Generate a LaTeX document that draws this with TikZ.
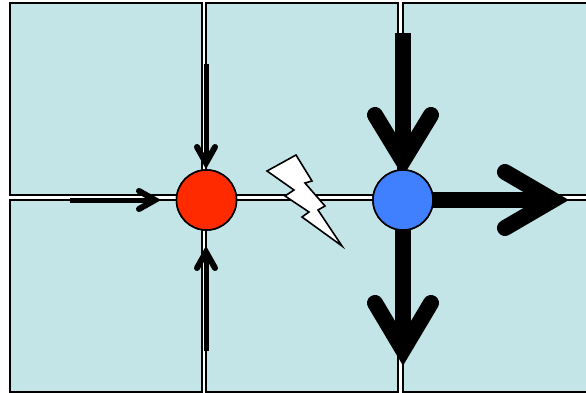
\documentclass[tikz,border=0pt]{standalone}
\definecolor{cellfill}{HTML}{C4E5E8}
\definecolor{hubred}{HTML}{FF2A00}
\definecolor{hubblue}{HTML}{4080FF}
\tikzset{
  x=1pt,y=-1pt,
  cell/.style={draw=black,line width=1.9pt,fill=cellfill,minimum width=192pt,minimum height=192pt,inner sep=0pt,outer sep=0pt},
  wide/.style={cell,minimum width=200pt},
  hub/.style={circle,draw=black,line width=1.6pt,minimum size=60pt,inner sep=0pt,outer sep=0pt},
  thin shaft/.style={line width=5pt,line cap=butt},
  thin head/.style={line width=6pt,line cap=round,line join=miter,miter limit=10},
  thick shaft/.style={line width=16pt,line cap=butt},
  thick head/.style={line width=16pt,line cap=round,line join=miter,miter limit=10},
  bolt/.style={draw=black,line width=1.6pt,fill=white,line join=miter,miter limit=10},
}
\begin{document}
\begin{tikzpicture}
\useasboundingbox (0,0) rectangle (586,393);
\clip (0,0) rectangle (586,393);
\fill[white] (0,0) rectangle (586,393);
\node[cell] (c1) at (106,99) {};
\node[cell] (c2) at (302,99) {};
\node[wide] (c3) at (503,99) {};
\node[cell] (c4) at (106,296) {};
\node[cell] (c5) at (302,296) {};
\node[wide] (c6) at (503,296) {};
\node[hub,fill=hubred] (red) at (206.5,200) {};
\node[hub,fill=hubblue] (blue) at (403,200) {};
\coordinate (rt) at (206,64);
\coordinate (rtn) at (206,163);
\coordinate (rl) at (70,200);
\coordinate (rln) at (155,200);
\coordinate (rb) at (206,351);
\coordinate (rbn) at (206,252);
\coordinate (bt) at (403,33);
\coordinate (btn) at (403,161);
\coordinate (brn) at (553,200);
\coordinate (bbn) at (403,350);
% red hub: incoming arrows
\draw[thin shaft] (rt) -- (rtn);
\draw[thin head] (197,147) -- (rtn) -- (215,147);
\draw[thin shaft] (rl) -- (rln);
\draw[thin head] (139,191) -- (rln) -- (139,209);
\draw[thin shaft] (rb) -- (rbn);
\draw[thin head] (197,268) -- (rbn) -- (215,268);
% blue hub: outgoing arrows
\draw[thick shaft] (bt) -- (btn);
\draw[thick head] (375,115) -- (btn) -- (431,115);
\draw[thick shaft] (blue) -- (brn);
\draw[thick head] (505,172) -- (brn) -- (505,228);
\draw[thick shaft] (blue) -- (bbn);
\draw[thick head] (375,303) -- (bbn) -- (431,303);
% hubs on top of the arrows
\node[hub,fill=hubred] at (red) {};
\node[hub,fill=hubblue] at (blue) {};
% lightning bolt
\draw[bolt] (267,171) -- (296,155) -- (312,181) -- (305,183) -- (325,206) -- (318,210) -- (342,246) -- (302,217) -- (309,212) -- (285,196) -- (294,190) -- cycle;
\end{tikzpicture}
\end{document}
